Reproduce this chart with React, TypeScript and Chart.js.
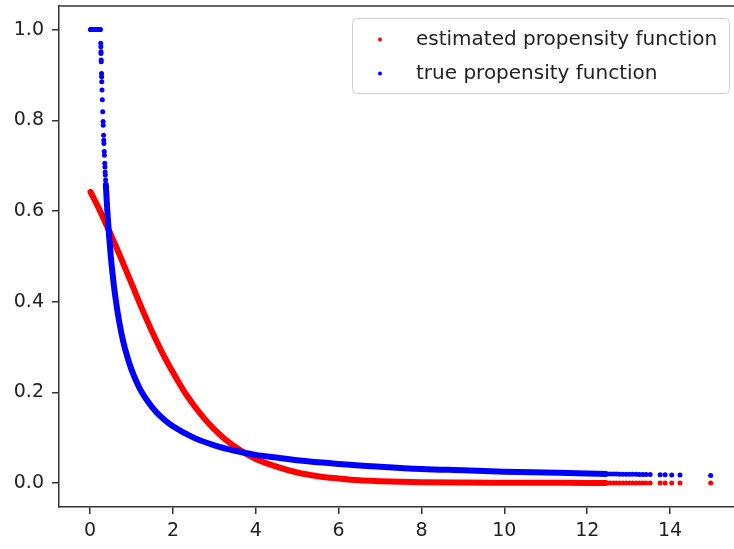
import React, { useEffect, useRef } from "react";
import { Chart, registerables } from "chart.js";

Chart.register(...registerables);

// ---- data ----
const X_TICKS = [0, 2, 4, 6, 8, 10, 12, 14];
const Y_TICKS = [0.0, 0.2, 0.4, 0.6, 0.8, 1.0];

// estimated propensity function (dense part of the scatter)
const RED_X = [0.01, 0.25, 0.5, 0.75, 1.0, 1.25, 1.5, 1.75, 2.0, 2.25, 2.5, 2.75, 3.0, 3.25, 3.5, 3.75, 4.0, 4.5, 5.0, 5.5, 6.0, 6.5, 7.0, 7.5, 8.0, 9.0, 10.0, 11.0, 12.0, 12.45];
const RED_Y = [0.642, 0.598, 0.548, 0.495, 0.44, 0.385, 0.333, 0.286, 0.244, 0.205, 0.172, 0.143, 0.118, 0.097, 0.08, 0.065, 0.053, 0.036, 0.023, 0.015, 0.01, 0.006, 0.004, 0.0025, 0.0015, 0.0008, 0.0005, 0.0003, 0.0002, 0.0002];

// true propensity function (dense part of the scatter)
const BLUE_X = [0.38, 0.42, 0.46, 0.5, 0.55, 0.6, 0.7, 0.8, 0.9, 1.0, 1.2, 1.4, 1.6, 1.8, 2.0, 2.5, 3.0, 3.5, 4.0, 4.5, 5.0, 6.0, 7.0, 8.0, 9.0, 10.0, 11.0, 12.0, 12.45];
const BLUE_Y = [0.658, 0.595, 0.543, 0.5, 0.455, 0.417, 0.357, 0.312, 0.278, 0.25, 0.208, 0.179, 0.156, 0.139, 0.125, 0.1, 0.083, 0.071, 0.062, 0.056, 0.05, 0.042, 0.036, 0.031, 0.028, 0.025, 0.023, 0.021, 0.02];

// isolated points of the true propensity function near x = 0
const BLUE_TOP_X = [0.01, 0.02, 0.04, 0.05, 0.07, 0.09, 0.1, 0.12, 0.14, 0.15, 0.17, 0.19, 0.2, 0.22, 0.24, 0.25, 0.258, 0.26, 0.263, 0.264, 0.268, 0.269, 0.277, 0.279, 0.282, 0.288, 0.296, 0.305, 0.314, 0.317, 0.326, 0.331, 0.334, 0.342, 0.346, 0.355, 0.359, 0.364, 0.368, 0.374];
const BLUE_TOP_Y = [1, 1, 1, 1, 1, 1, 1, 1, 1, 1, 1, 1, 1, 1, 1, 1, 0.97, 0.962, 0.951, 0.947, 0.933, 0.929, 0.903, 0.896, 0.885, 0.867, 0.845, 0.819, 0.797, 0.789, 0.767, 0.756, 0.749, 0.731, 0.723, 0.705, 0.697, 0.686, 0.679, 0.668];

// isolated points in the right tail
const TAIL_X = [12.55, 12.63, 12.7, 12.78, 12.86, 12.94, 13.02, 13.1, 13.18, 13.26, 13.34, 13.42, 13.52, 13.76, 13.88, 14.04, 14.24, 14.98];
const TAIL_BLUE_Y = [0.0199, 0.0198, 0.0196, 0.0195, 0.0194, 0.0193, 0.0192, 0.0191, 0.019, 0.0189, 0.0187, 0.0186, 0.0185, 0.0182, 0.018, 0.0178, 0.0176, 0.0167];
const TAIL_RED_Y = [0.0002, 0.0002, 0.0002, 0.0002, 0.0002, 0.0002, 0.0002, 0.0002, 0.0002, 0.0002, 0.0002, 0.0002, 0.0002, 0.0002, 0.0001, 0.0001, 0.0001, 0.0001];

const LEGEND_LABELS = ["estimated propensity function", "true propensity function"];
const RED = "#ff0000";
const BLUE = "#0000ff";

const pts = (xs: number[], ys: number[]) => xs.map((x, i) => ({ x, y: ys[i] }));

export default function App() {
  const ref = useRef<HTMLCanvasElement | null>(null);

  useEffect(() => {
    if (!ref.current) return;
    const font = '"DejaVu Sans", sans-serif';

    const framePlugin = {
      id: "frameAndLegend",
      afterDraw(chart: any) {
        const { ctx, chartArea } = chart;
        ctx.save();
        ctx.strokeStyle = "#333";
        ctx.lineWidth = 1.5;
        ctx.beginPath();
        ctx.moveTo(chartArea.left, chartArea.top);
        ctx.lineTo(chartArea.right, chartArea.top);
        ctx.stroke();

        // legend
        const lx = 352.5, ly = 18.5, lw = 377, lh = 75;
        ctx.beginPath();
        (ctx as any).roundRect(lx, ly, lw, lh, 4);
        ctx.fillStyle = "rgba(255,255,255,0.8)";
        ctx.fill();
        ctx.strokeStyle = "#d0d0d0";
        ctx.lineWidth = 1;
        ctx.stroke();
        const rows = [39.5, 73.5];
        const cols = [RED, BLUE];
        ctx.font = `20px ${font}`;
        ctx.textBaseline = "middle";
        ctx.textAlign = "left";
        rows.forEach((y, i) => {
          ctx.beginPath();
          ctx.arc(380, y, 2, 0, Math.PI * 2);
          ctx.fillStyle = cols[i];
          ctx.fill();
          ctx.fillStyle = "#222";
          ctx.fillText(LEGEND_LABELS[i], 416, y);
        });
        ctx.restore();
      },
    };

    const lineDs = (data: any, color: string) => ({
      data,
      showLine: true,
      borderColor: color,
      backgroundColor: color,
      borderWidth: 6,
      borderCapStyle: "round",
      borderJoinStyle: "round",
      cubicInterpolationMode: "monotone",
      pointRadius: 0,
    });
    const dotDs = (data: any, color: string) => ({
      data,
      showLine: false,
      borderColor: color,
      backgroundColor: color,
      borderWidth: 0,
      pointRadius: 2.5,
    });

    const chart = new Chart(ref.current, {
      type: "scatter",
      data: {
        datasets: [
          dotDs(pts(BLUE_TOP_X, BLUE_TOP_Y), BLUE),
          lineDs(pts(BLUE_X, BLUE_Y), BLUE),
          dotDs(pts(TAIL_X, TAIL_BLUE_Y), BLUE),
          lineDs(pts(RED_X, RED_Y), RED),
          dotDs(pts(TAIL_X, TAIL_RED_Y), RED),
        ] as any,
      },
      options: {
        animation: false,
        responsive: false,
        maintainAspectRatio: false,
        devicePixelRatio: 1,
        layout: { padding: { left: 0, top: 6, right: 16.6, bottom: 0 } },
        plugins: { legend: { display: false }, tooltip: { enabled: false } },
        scales: {
          x: {
            type: "linear",
            min: -0.75,
            max: 15.77,
            afterFit: (s: any) => { s.height = 42; s.paddingLeft = 0; s.paddingRight = 0; },
            afterBuildTicks: (s: any) => { s.ticks = X_TICKS.map((v) => ({ value: v })); },
            grid: { drawOnChartArea: false, drawTicks: true, tickLength: 7, color: "#333", lineWidth: 1.5 },
            border: { display: true, color: "#333", width: 1.5 },
            ticks: { color: "#222", font: { family: font, size: 19 }, padding: 6, maxRotation: 0, autoSkip: false },
          },
          y: {
            type: "linear",
            min: -0.053,
            max: 1.052,
            afterFit: (s: any) => { s.width = 59; s.paddingTop = 0; s.paddingBottom = 0; },
            afterBuildTicks: (s: any) => { s.ticks = Y_TICKS.map((v) => ({ value: v })); },
            grid: { drawOnChartArea: false, drawTicks: true, tickLength: 7, color: "#333", lineWidth: 1.5 },
            border: { display: true, color: "#333", width: 1.5 },
            ticks: { color: "#222", font: { family: font, size: 19 }, padding: 8, autoSkip: false, callback: (v: any) => Number(v).toFixed(1) },
          },
        },
      },
      plugins: [framePlugin],
    });
    return () => chart.destroy();
  }, []);

  return (
    <div style={{ position: "fixed", left: 0, top: 0, width: 734, height: 549, overflow: "hidden", background: "#fff" }}>
      <div style={{ position: "absolute", left: 0, top: 0, width: 760, height: 549 }}>
        <canvas ref={ref} width={760} height={549} style={{ display: "block", width: 760, height: 549 }} />
      </div>
    </div>
  );
}
